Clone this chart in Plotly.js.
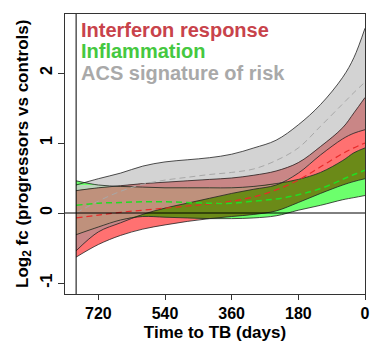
<!DOCTYPE html>
<html>
<head>
<meta charset="utf-8">
<script src="https://cdn.plot.ly/plotly-3.0.1.min.js"></script>
<style>html,body{margin:0;padding:0;background:#fff;}#chart{width:372px;height:344px;}</style>
</head>
<body>
<div id="chart"></div>
<script>
// Time to TB (days)
const days = [780,720,660,600,540,480,420,360,300,240,180,120,60,30,0];

// ACS signature of risk (grey)
const acsUpper = [0.40,0.49,0.57,0.67,0.73,0.76,0.79,0.84,0.93,1.04,1.26,1.55,1.94,2.22,2.64];
const acsMid   = [0.00,0.17,0.31,0.41,0.47,0.51,0.55,0.58,0.63,0.75,0.93,1.24,1.56,1.72,1.87];
const acsLower = [-0.54,-0.27,-0.14,-0.02,0.07,0.14,0.21,0.28,0.34,0.40,0.57,0.83,1.06,1.14,1.19];

// Interferon response (red)
const ifnUpper = [0.32,0.36,0.39,0.42,0.44,0.46,0.48,0.50,0.54,0.60,0.72,0.95,1.22,1.43,1.65];
const ifnMid   = [-0.07,-0.03,0.01,0.04,0.07,0.10,0.13,0.17,0.23,0.33,0.47,0.66,0.85,0.93,1.00];
const ifnLower = [-0.63,-0.45,-0.32,-0.23,-0.17,-0.12,-0.08,-0.05,-0.02,0.03,0.15,0.28,0.40,0.45,0.49];

// Inflammation (green)
const infUpper = [0.46,0.40,0.38,0.37,0.36,0.36,0.36,0.36,0.38,0.42,0.48,0.58,0.75,0.86,0.93];
const infMid   = [0.11,0.14,0.15,0.16,0.16,0.15,0.14,0.14,0.17,0.20,0.26,0.35,0.48,0.55,0.61];
const infLower = [-0.31,-0.20,-0.10,-0.05,-0.06,-0.07,-0.08,-0.08,-0.07,-0.04,0.04,0.11,0.19,0.22,0.25];

const legendLabels = ["Interferon response", "Inflammation", "ACS signature of risk"];
const xTicks = [720,540,360,180,0];
const yTicks = [-1,0,1,2];
const xTitle = "Time to TB (days)";
const yTitle = "Log<sub>2</sub> fc (progressors vs controls)";

const C = {
  grey: '#d3d3d3', red: '#ff7171', green: '#6cff6c',
  redGrey: '#c98686', greenGrey: '#bcd6bc', redGreen: '#6b8a18', all: '#bf917c'
};

function band(lo, hi, color) {
  return [
    {x: days, y: lo, type: 'scatter', mode: 'lines', line: {width: 0, shape: 'spline'}, hoverinfo: 'skip', showlegend: false},
    {x: days, y: hi, type: 'scatter', mode: 'lines', line: {width: 0, shape: 'spline'}, fill: 'tonexty', fillcolor: color, hoverinfo: 'skip', showlegend: false}
  ];
}
function inter(los, his) {
  const lo = days.map((_, i) => Math.max(...los.map(a => a[i])));
  const hi = days.map((_, i) => Math.max(lo[i], Math.min(...his.map(a => a[i]))));
  return [lo, hi];
}
function outline(y) {
  return {x: days, y: y, type: 'scatter', mode: 'lines', line: {color: '#222', width: 0.8, shape: 'spline'}, hoverinfo: 'skip', showlegend: false};
}
function mid(y, color, w) {
  return {x: days, y: y, type: 'scatter', mode: 'lines', line: {color: color, width: w, dash: '6px,4px', shape: 'spline'}, hoverinfo: 'skip', showlegend: false};
}

let traces = [];
traces = traces.concat(band(acsLower, acsUpper, C.grey));
traces = traces.concat(band(ifnLower, ifnUpper, C.red));
traces = traces.concat(band(infLower, infUpper, C.green));
let rg = inter([ifnLower, acsLower], [ifnUpper, acsUpper]);
traces = traces.concat(band(rg[0], rg[1], C.redGrey));
let gg = inter([infLower, acsLower], [infUpper, acsUpper]);
traces = traces.concat(band(gg[0], gg[1], C.greenGrey));
let rgn = inter([ifnLower, infLower], [ifnUpper, infUpper]);
traces = traces.concat(band(rgn[0], rgn[1], C.redGreen));
let all3 = inter([ifnLower, infLower, acsLower], [ifnUpper, infUpper, acsUpper]);
traces = traces.concat(band(all3[0], all3[1], C.all));

[acsLower, acsUpper, ifnLower, ifnUpper, infLower, infUpper].forEach(a => traces.push(outline(a)));
traces.push(mid(acsMid, '#a8a8a8', 1));
traces.push(mid(ifnMid, '#e82a2a', 1.2));
traces.push(mid(infMid, '#22dd22', 1.5));

const font = {family: 'Liberation Sans, Arial, sans-serif', color: '#000'};
const layout = {
  width: 372, height: 344,
  margin: {l: 65, r: 7, t: 14, b: 50},
  paper_bgcolor: '#fff', plot_bgcolor: '#fff',
  showlegend: false,
  xaxis: {
    range: [810, 0], autorange: false, tickvals: xTicks, ticktext: xTicks.map(String),
    showgrid: false, zeroline: false, showline: true, mirror: true, linecolor: '#333', linewidth: 1,
    ticks: 'outside', ticklen: 5, tickcolor: '#333',
    tickfont: Object.assign({size: 16, weight: 'bold'}, font),
    title: {text: '<b>' + xTitle + '</b>', font: Object.assign({size: 17}, font), standoff: 4}
  },
  yaxis: {
    range: [-1.157, 2.843], autorange: false, tickvals: yTicks, ticktext: yTicks.map(String),
    showgrid: false, zeroline: false, showline: true, mirror: true, linecolor: '#333', linewidth: 1,
    ticks: 'outside', ticklen: 6, tickcolor: '#333', tickangle: -90,
    tickfont: Object.assign({size: 16, weight: 'bold'}, font)
  },
  shapes: [
    {type: 'line', xref: 'x', yref: 'paper', x0: 780, x1: 780, y0: 0, y1: 1, line: {color: '#000', width: 1}},
    {type: 'line', xref: 'paper', yref: 'y', x0: 0, x1: 1, y0: 0, y1: 0, line: {color: '#000', width: 1}}
  ],
  annotations: [
    {text: '<b>' + yTitle + '</b>', xref: 'paper', yref: 'paper', x: -0.137, y: 0.5, xanchor: 'center', yanchor: 'middle', textangle: -90, showarrow: false, font: Object.assign({}, font, {size: 17})},
    {text: '<b>' + legendLabels[0] + '</b>', xref: 'paper', yref: 'paper', x: 0.047, y: 0.943, xanchor: 'left', yanchor: 'middle', showarrow: false, font: Object.assign({}, font, {size: 20, color: '#c8434b'})},
    {text: '<b>' + legendLabels[1] + '</b>', xref: 'paper', yref: 'paper', x: 0.047, y: 0.868, xanchor: 'left', yanchor: 'middle', showarrow: false, font: Object.assign({}, font, {size: 20, color: '#45c840'})},
    {text: '<b>' + legendLabels[2] + '</b>', xref: 'paper', yref: 'paper', x: 0.047, y: 0.789, xanchor: 'left', yanchor: 'middle', showarrow: false, font: Object.assign({}, font, {size: 20, color: '#a9a9a9'})}
  ]
};
Plotly.newPlot('chart', traces, layout, {displayModeBar: false, staticPlot: true});
</script>
</body>
</html>
